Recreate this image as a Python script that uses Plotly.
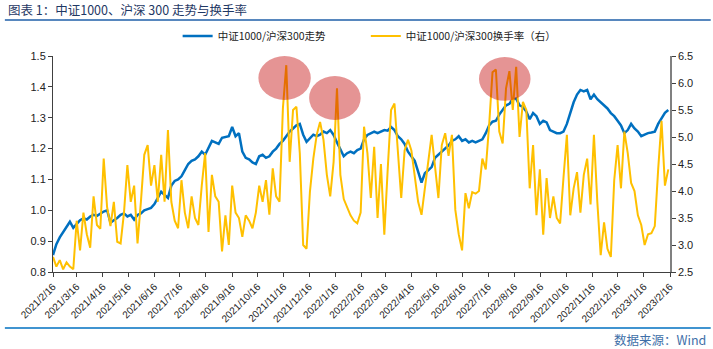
import pandas as pd
import plotly.graph_objects as go

# ---- data ----
dates = list(pd.date_range("2021-02-16", periods=183, freq="4D"))

ratio_index = [
    0.855, 0.89, 0.912, 0.928, 0.945, 0.963, 0.943, 0.955, 0.968, 0.974,
    0.97, 0.98, 0.985, 0.982, 0.99, 0.996, 1.0, 0.96, 0.968, 0.975,
    0.985, 0.99, 0.98, 0.985, 0.97, 0.985, 0.99, 1.0, 1.004, 1.008,
    1.02, 1.04, 1.06, 1.05, 1.04, 1.08, 1.095, 1.1, 1.11, 1.13,
    1.15, 1.16, 1.165, 1.175, 1.19, 1.18, 1.2, 1.225, 1.22, 1.215,
    1.235, 1.238, 1.24, 1.27, 1.24, 1.25, 1.19, 1.17, 1.165, 1.155,
    1.15, 1.175, 1.18, 1.17, 1.175, 1.19, 1.2, 1.215, 1.225, 1.24,
    1.255, 1.265, 1.275, 1.28, 1.245, 1.222, 1.235, 1.245, 1.24, 1.245,
    1.255, 1.25, 1.26, 1.244, 1.22, 1.195, 1.175, 1.185, 1.19, 1.185,
    1.195, 1.2, 1.23, 1.244, 1.25, 1.255, 1.25, 1.255, 1.26, 1.258,
    1.27, 1.26, 1.24, 1.23, 1.215, 1.19, 1.175, 1.16, 1.125, 1.09,
    1.12, 1.13, 1.14, 1.17, 1.18, 1.19, 1.2, 1.21, 1.225, 1.23,
    1.24, 1.225, 1.23, 1.22, 1.225, 1.22, 1.225, 1.23, 1.25, 1.275,
    1.287, 1.29, 1.31, 1.325, 1.34, 1.345, 1.36, 1.362, 1.34, 1.335,
    1.32, 1.295, 1.315, 1.305, 1.28, 1.29, 1.285, 1.26, 1.255, 1.25,
    1.25, 1.255, 1.28, 1.315, 1.35, 1.375, 1.39, 1.385, 1.39, 1.36,
    1.375, 1.36, 1.35, 1.34, 1.33, 1.315, 1.305, 1.29, 1.275, 1.25,
    1.26, 1.28, 1.265, 1.255, 1.24, 1.245, 1.25, 1.252, 1.255, 1.28,
    1.3, 1.316, 1.325,
]

ratio_turnover = [
    2.78, 2.6, 2.72, 2.55, 2.68, 2.6, 2.55, 3.45, 2.9, 3.6,
    3.2, 2.95, 3.9, 3.37, 3.3, 4.6, 3.7, 3.35, 3.8, 3.06,
    3.03, 3.6, 4.48, 3.8, 4.1, 3.03, 3.8, 4.67, 4.85, 4.1,
    4.48, 3.8, 4.67, 3.8, 5.13, 3.8, 3.45, 3.31, 4.2, 3.6,
    3.31, 3.9, 3.5, 3.37, 4.1, 4.7, 3.24, 4.3, 3.9, 3.8,
    2.88, 3.55, 3.0, 4.1, 3.6, 3.5, 3.15, 3.55, 3.45, 3.31,
    3.6, 4.1, 3.8, 4.2, 3.56, 4.42, 3.9, 3.8, 5.53, 6.33,
    4.54, 5.5, 5.56, 4.7, 3.0, 2.93, 3.99, 4.6, 5.04, 5.28,
    4.95, 4.3, 3.9, 4.54, 5.9, 4.3, 3.85, 3.7, 3.55, 3.45,
    3.4, 3.6, 5.19, 4.7, 3.87, 4.82, 3.5, 4.5, 3.19, 4.4,
    5.5, 5.62, 4.82, 3.87, 4.75, 4.95, 4.75, 4.3, 3.8, 3.56,
    4.05, 4.45, 5.04, 4.45, 3.87, 4.85, 5.07, 4.65, 5.04, 3.65,
    3.2, 2.9, 3.96, 3.68, 3.98, 3.95, 4.0, 4.6, 4.4, 5.22,
    6.2, 6.25, 5.1, 4.88, 5.9, 6.22, 5.5, 6.3, 5.0, 5.65,
    5.5, 4.05, 4.85, 3.55, 4.4, 3.19, 4.24, 3.5, 3.9, 3.5,
    3.4, 4.25, 5.04, 3.55, 4.05, 4.35, 3.6, 4.3, 4.6, 3.75,
    5.04, 3.8, 2.81, 3.42, 2.93, 2.78, 4.2, 4.85, 4.05, 5.1,
    4.7, 4.15, 4.0, 3.55, 3.37, 3.0, 3.2, 3.22, 3.35, 4.4,
    5.3, 4.1, 4.4,
]

tick_labels = [
    "2021/2/16", "2021/3/16", "2021/4/16", "2021/5/16", "2021/6/16",
    "2021/7/16", "2021/8/16", "2021/9/16", "2021/10/16", "2021/11/16",
    "2021/12/16", "2022/1/16", "2022/2/16", "2022/3/16", "2022/4/16",
    "2022/5/16", "2022/6/16", "2022/7/16", "2022/8/16", "2022/9/16",
    "2022/10/16", "2022/11/16", "2022/12/16", "2023/1/16", "2023/2/16",
]

# highlighted turnover peaks (date span, right-axis span)
highlights = [
    ("2021-10-17", "2021-12-18", 5.685, 6.5),
    ("2021-12-16", "2022-02-15", 5.315, 6.13),
    ("2022-07-05", "2022-09-04", 5.67, 6.48),
]

name_index = "中证1000/沪深300走势"
name_turnover = "中证1000/沪深300换手率（右）"

assert len(dates) == len(ratio_index) == len(ratio_turnover)

FONT = "Liberation Sans, Arial, Noto Sans CJK SC, sans-serif"
CJK = "Noto Sans CJK SC, sans-serif"

tick_vals = [pd.to_datetime(t, format="%Y/%m/%d") for t in tick_labels]

fig = go.Figure()
fig.add_trace(go.Scatter(
    x=dates, y=ratio_index, name=name_index, mode="lines",
    line=dict(color="#0070C0", width=2.5), yaxis="y", legend="legend",
))
fig.add_trace(go.Scatter(
    x=dates, y=ratio_turnover, name=name_turnover, mode="lines",
    line=dict(color="#FFC000", width=2), yaxis="y2", legend="legend2",
))

for x0, x1, y0, y1 in highlights:
    fig.add_shape(type="circle", xref="x", yref="y2", x0=x0, x1=x1, y0=y0, y1=y1,
                  fillcolor="rgba(192,0,0,0.42)", line=dict(width=0), layer="above")

# title, rules and source
fig.add_annotation(xref="paper", yref="paper", x=-0.076, y=1.213,
                   xanchor="left", yanchor="middle", showarrow=False,
                   text="图表 1：中证1000、沪深 300 走势与换手率",
                   font=dict(family=CJK, size=12.5, color="#1F3864"))
fig.add_shape(type="line", xref="paper", yref="paper", x0=-0.078, x1=1.066,
              y0=1.167, y1=1.167, line=dict(color="#1F5FA8", width=1.5))
fig.add_annotation(xref="paper", yref="paper", x=1.062, y=-0.312, xanchor="right",
                   yanchor="middle", showarrow=False, text="数据来源：Wind",
                   font=dict(family=CJK, size=12.5, color="#3E6FA8"))
fig.add_shape(type="line", xref="paper", yref="paper", x0=-0.078, x1=1.066,
              y0=-0.259, y1=-0.259, line=dict(color="#0070C0", width=1.5))

legend_style = dict(orientation="h", y=1.093, xanchor="left", yanchor="middle",
                    font=dict(family=CJK, size=10.5, color="#222222"),
                    bgcolor="rgba(0,0,0,0)", itemwidth=30)

fig.update_layout(
    width=713, height=349,
    margin=dict(l=53, r=43, t=56, b=77),
    paper_bgcolor="white", plot_bgcolor="white",
    font=dict(family=FONT, size=11, color="#222222"),
    showlegend=True,
    legend=dict(x=0.202, **legend_style),
    legend2=dict(x=0.507, **legend_style),
    xaxis=dict(
        type="date", range=["2021-02-16", "2023-02-16"],
        tickmode="array", tickvals=tick_vals, ticktext=tick_labels,
        tickangle=-45, tickfont=dict(size=10, color="#222222"),
        showgrid=False, zeroline=False,
        showline=True, linecolor="#404040", linewidth=1,
        ticks="outside", ticklen=4, tickcolor="#404040",
    ),
    yaxis=dict(
        range=[0.8, 1.5], dtick=0.1, tickformat=".1f",
        showgrid=False, zeroline=False,
        showline=True, linecolor="#404040", linewidth=1,
        ticks="outside", ticklen=4, tickcolor="#404040",
        tickfont=dict(size=11, color="#222222"),
    ),
    yaxis2=dict(
        range=[2.5, 6.5], dtick=0.5, tickformat=".1f", overlaying="y", side="right",
        showgrid=False, zeroline=False,
        showline=True, linecolor="#808080", linewidth=1.5,
        ticks="outside", ticklen=4, tickcolor="#404040",
        tickfont=dict(size=11, color="#222222"),
    ),
)

fig.write_html("out.html")
